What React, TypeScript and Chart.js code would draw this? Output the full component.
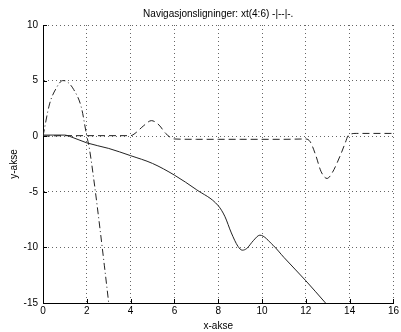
import React, { useEffect, useRef } from 'react';
import { Chart, registerables } from 'chart.js';

Chart.register(...registerables);

const titleText = 'Navigasjonsligninger: xt(4:6) -|--|-.';
const xLabel = 'x-akse';
const yLabel = 'y-akse';

const xMin = 0;
const xMax = 16;
const xStep = 2;
const yMin = -15;
const yMax = 10;
const yStep = 5;

// xt(4) solid
const solidX = [0, 1, 1.2, 2, 3, 4, 5, 6, 7, 8, 8.3, 8.6, 8.9, 9.1, 9.3, 9.6, 9.9, 10.5, 11, 12, 12.9];
const solidY = [0.1, 0.1, 0, -0.6, -1.1, -1.75, -2.45, -3.5, -4.8, -6.25, -7.2, -8.7, -9.9, -10.25, -10.1, -9.4, -8.9, -9.8, -10.9, -13, -15];

// xt(5) dashed
const dashedX = [0, 1, 2, 3, 4, 4.2, 4.6, 4.95, 5.3, 5.6, 6.0, 7, 8, 9, 10, 11, 12, 12.2, 12.45, 12.7, 12.97, 13.2, 13.58, 13.8, 13.95, 14.3, 15, 16];
const dashedY = [0, 0.05, 0.05, 0.05, 0.05, 0.25, 0.95, 1.4, 1.0, 0.25, -0.25, -0.28, -0.28, -0.28, -0.28, -0.28, -0.25, -0.5, -1.7, -3.2, -3.8, -3.3, -1.7, -0.6, 0.1, 0.25, 0.25, 0.25];

// xt(6) dash-dot
const dashDotX = [0, 0.3, 0.6, 0.9, 1.1, 1.4, 1.75, 2.0, 2.1, 2.36, 2.6, 2.8, 3.0];
const dashDotY = [0, 2.9, 4.3, 5.0, 4.9, 4.2, 2.6, 0, -0.9, -4.5, -8.3, -11.6, -15];

const FONT = "'Liberation Sans', Arial, sans-serif";

const toPts = (xs: number[], ys: number[]) => xs.map((x, i) => ({ x, y: ys[i] }));

const decorPlugin = {
  id: 'decor',
  afterDraw(chart: any) {
    const { ctx, chartArea, scales } = chart;
    ctx.save();
    ctx.fillStyle = '#000';
    ctx.font = `10px ${FONT}`;
    ctx.textAlign = 'center';
    ctx.textBaseline = 'middle';
    ctx.fillText(titleText, (chartArea.left + chartArea.right) / 2, 14);
    ctx.strokeStyle = '#000';
    ctx.lineWidth = 1;
    ctx.beginPath();
    scales.x.ticks.forEach((t: any) => {
      const px = Math.round(scales.x.getPixelForValue(t.value)) + 0.5;
      ctx.moveTo(px, chartArea.bottom);
      ctx.lineTo(px, chartArea.bottom - 4);
    });
    scales.y.ticks.forEach((t: any) => {
      const py = Math.round(scales.y.getPixelForValue(t.value)) + 0.5;
      ctx.moveTo(chartArea.left, py);
      ctx.lineTo(chartArea.left + 4, py);
    });
    ctx.stroke();
    ctx.restore();
  },
};

export default function App() {
  const ref = useRef<HTMLCanvasElement>(null);
  useEffect(() => {
    document.body.style.margin = '0';
    const common = {
      borderColor: '#222',
      borderWidth: 1,
      pointRadius: 0,
      fill: false,
      cubicInterpolationMode: 'monotone' as const,
    };
    const chart = new Chart(ref.current as HTMLCanvasElement, {
      type: 'line',
      data: {
        datasets: [
          { ...common, label: 'xt(4)', data: toPts(solidX, solidY) },
          { ...common, label: 'xt(5)', data: toPts(dashedX, dashedY), borderDash: [7, 4] },
          { ...common, label: 'xt(6)', data: toPts(dashDotX, dashDotY), borderDash: [7, 3, 1, 3] },
        ],
      },
      options: {
        responsive: false,
        animation: false,
        devicePixelRatio: 1,
        layout: { padding: { top: 25, right: 6, left: 0, bottom: 0 } },
        plugins: { legend: { display: false }, tooltip: { enabled: false }, title: { display: false } },
        scales: {
          x: {
            type: 'linear',
            min: xMin,
            max: xMax,
            ticks: { stepSize: xStep, color: '#000', font: { family: FONT, size: 10 }, padding: 2, maxRotation: 0 },
            grid: { color: '#666', lineWidth: 1, drawTicks: false },
            border: { display: true, color: '#000', width: 1, dash: [1, 3] },
            title: { display: true, text: xLabel, color: '#000', font: { family: FONT, size: 10 }, padding: 0 },
            afterFit: (s: any) => { s.height = 29; },
          },
          y: {
            type: 'linear',
            min: yMin,
            max: yMax,
            ticks: { stepSize: yStep, color: '#000', font: { family: FONT, size: 10 }, padding: 5 },
            grid: { color: '#666', lineWidth: 1, drawTicks: false },
            border: { display: true, color: '#000', width: 1, dash: [1, 3] },
            title: { display: true, text: yLabel, color: '#000', font: { family: FONT, size: 10 }, padding: { top: 8, bottom: 0 } },
            afterFit: (s: any) => { s.width = 43; },
          },
        },
      },
      plugins: [decorPlugin],
    });
    return () => chart.destroy();
  }, []);
  return (
    <div style={{ width: 401, height: 332, background: '#fff' }}>
      <canvas ref={ref} width={401} height={332} />
    </div>
  );
}
